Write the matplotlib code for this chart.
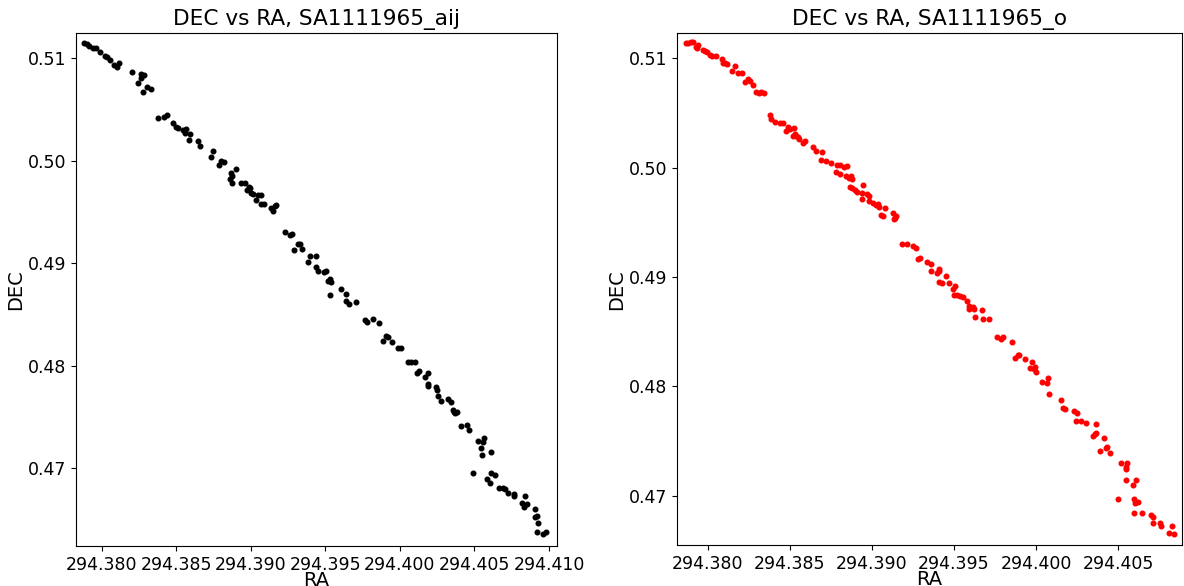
import matplotlib
matplotlib.use('Agg')
import matplotlib.pyplot as plt
from matplotlib.ticker import MultipleLocator, FormatStrFormatter

ra_aij = [294.37881, 294.37904, 294.37917, 294.37944, 294.37962, 294.37989, 294.38022, 294.38034,
          294.38056, 294.38084, 294.38100, 294.38118, 294.38201, 294.38261, 294.38283, 294.38263,
          294.38245, 294.38305, 294.38328, 294.38275, 294.38379, 294.38417, 294.38439, 294.38480,
          294.38502, 294.38513, 294.38543, 294.38569, 294.38558, 294.38591, 294.38583, 294.38647,
          294.38658, 294.38748, 294.38734, 294.38804, 294.38819, 294.38788, 294.38898, 294.38866,
          294.38875, 294.38864, 294.38875, 294.38938, 294.38960, 294.38989, 294.38998, 294.38975,
          294.39005, 294.39015, 294.39049, 294.39072, 294.39038, 294.39072, 294.39087, 294.39139,
          294.39149, 294.39161, 294.39168, 294.39228, 294.39266, 294.39277, 294.39317, 294.39328,
          294.39288, 294.39346, 294.39395, 294.39435, 294.39384, 294.39440, 294.39451, 294.39489,
          294.39507, 294.39518, 294.39534, 294.39541, 294.39534, 294.39603, 294.39636, 294.39641,
          294.39656, 294.39708, 294.39764, 294.39779, 294.39819, 294.39857, 294.39909, 294.39920,
          294.39886, 294.39946, 294.39987, 294.40009, 294.40058, 294.40076, 294.40099, 294.40114,
          294.40127, 294.40166, 294.40188, 294.40188, 294.40192, 294.40244, 294.40248, 294.40259,
          294.40279, 294.40322, 294.40346, 294.40355, 294.40366, 294.40373, 294.40382, 294.40411,
          294.40449, 294.40467, 294.40525, 294.40561, 294.40567, 294.40545, 294.40552, 294.40614,
          294.40489, 294.40608, 294.40641, 294.40583, 294.40606, 294.40668, 294.40690, 294.40708,
          294.40726, 294.40764, 294.40768, 294.40840, 294.40820, 294.40851, 294.40831, 294.40909,
          294.40904, 294.40920, 294.40929, 294.40920, 294.40963, 294.40981]
dec_aij = [0.51146, 0.51140, 0.51120, 0.51101, 0.51098, 0.51064, 0.51022, 0.51010,
           0.50983, 0.50938, 0.50918, 0.50951, 0.50863, 0.50847, 0.50840, 0.50805,
           0.50762, 0.50717, 0.50698, 0.50674, 0.50415, 0.50424, 0.50447, 0.50372,
           0.50333, 0.50317, 0.50301, 0.50313, 0.50268, 0.50262, 0.50203, 0.50196,
           0.50144, 0.50099, 0.50034, 0.50001, 0.49991, 0.49959, 0.49923, 0.49884,
           0.49852, 0.49820, 0.49786, 0.49786, 0.49786, 0.49747, 0.49732, 0.49715,
           0.49683, 0.49676, 0.49666, 0.49666, 0.49618, 0.49579, 0.49579, 0.49537,
           0.49513, 0.49562, 0.49569, 0.49308, 0.49276, 0.49283, 0.49185, 0.49185,
           0.49130, 0.49137, 0.49071, 0.49071, 0.49010, 0.48961, 0.48928, 0.48918,
           0.48928, 0.48830, 0.48844, 0.48821, 0.48691, 0.48746, 0.48701, 0.48635,
           0.48603, 0.48620, 0.48447, 0.48427, 0.48454, 0.48415, 0.48294, 0.48278,
           0.48242, 0.48235, 0.48171, 0.48171, 0.48040, 0.48040, 0.48040, 0.47933,
           0.47952, 0.47888, 0.47927, 0.47822, 0.47803, 0.47790, 0.47764, 0.47705,
           0.47660, 0.47679, 0.47644, 0.47569, 0.47552, 0.47537, 0.47552, 0.47413,
           0.47422, 0.47374, 0.47269, 0.47260, 0.47299, 0.47201, 0.47130, 0.47156,
           0.46957, 0.46957, 0.46932, 0.46899, 0.46854, 0.46811, 0.46811, 0.46795,
           0.46756, 0.46749, 0.46730, 0.46733, 0.46664, 0.46649, 0.46620, 0.46603,
           0.46522, 0.46535, 0.46469, 0.46376, 0.46359, 0.46382]

ra_o = [294.37868, 294.37882, 294.37897, 294.37909, 294.37929, 294.37943, 294.37937, 294.37970,
        294.37984, 294.37994, 294.38014, 294.38030, 294.38050, 294.38085, 294.38095, 294.38105,
        294.38119, 294.38166, 294.38146, 294.38186, 294.38207, 294.38228, 294.38247, 294.38257,
        294.38277, 294.38293, 294.38313, 294.38328, 294.38344, 294.38383, 294.38389, 294.38409,
        294.38439, 294.38459, 294.38490, 294.38500, 294.38480, 294.38526, 294.38530, 294.38541,
        294.38550, 294.38556, 294.38520, 294.38581, 294.38591, 294.38642, 294.38662, 294.38699,
        294.38693, 294.38723, 294.38753, 294.38790, 294.38804, 294.38828, 294.38848, 294.38784,
        294.38808, 294.38844, 294.38860, 294.38875, 294.38881, 294.38864, 294.38881, 294.38895,
        294.38909, 294.38945, 294.38942, 294.38970, 294.38982, 294.38942, 294.38982, 294.39010,
        294.39027, 294.39036, 294.39042, 294.39077, 294.39057, 294.39067, 294.39128, 294.39144,
        294.39132, 294.39140, 294.39182, 294.39213, 294.39249, 294.39270, 294.39279, 294.39294,
        294.39337, 294.39357, 294.39357, 294.39397, 294.39407, 294.39411, 294.39452, 294.39411,
        294.39428, 294.39472, 294.39508, 294.39492, 294.39502, 294.39516, 294.39537, 294.39557,
        294.39581, 294.39593, 294.39589, 294.39618, 294.39620, 294.39671, 294.39628, 294.39674,
        294.39715, 294.39762, 294.39786, 294.39796, 294.39853, 294.39871, 294.39887, 294.39897,
        294.39932, 294.39974, 294.39964, 294.39988, 294.39994, 294.39999, 294.40033, 294.40075,
        294.40069, 294.40080, 294.40151, 294.40165, 294.40177, 294.40231, 294.40248, 294.40242,
        294.40272, 294.40306, 294.40363, 294.40343, 294.40357, 294.40367, 294.40414, 294.40428,
        294.40434, 294.40448, 294.40389, 294.40515, 294.40545, 294.40552, 294.40549, 294.40545,
        294.40610, 294.40592, 294.40499, 294.40596, 294.40602, 294.40622, 294.40598, 294.40643,
        294.40701, 294.40711, 294.40711, 294.40754, 294.40758, 294.40828, 294.40808, 294.40838]
dec_o = [0.51143, 0.51143, 0.51146, 0.51152, 0.51101, 0.51122, 0.51092, 0.51076,
         0.51070, 0.51058, 0.51027, 0.51021, 0.51021, 0.50996, 0.50960, 0.50954,
         0.50945, 0.50932, 0.50884, 0.50868, 0.50863, 0.50786, 0.50808, 0.50795,
         0.50757, 0.50694, 0.50680, 0.50694, 0.50685, 0.50481, 0.50442, 0.50420,
         0.50405, 0.50405, 0.50374, 0.50350, 0.50338, 0.50360, 0.50307, 0.50289,
         0.50277, 0.50259, 0.50289, 0.50228, 0.50246, 0.50186, 0.50155, 0.50143,
         0.50070, 0.50063, 0.50039, 0.50024, 0.50024, 0.50008, 0.50015, 0.49960,
         0.49942, 0.49923, 0.49902, 0.49926, 0.49893, 0.49825, 0.49811, 0.49795,
         0.49780, 0.49841, 0.49765, 0.49759, 0.49743, 0.49710, 0.49697, 0.49673,
         0.49658, 0.49667, 0.49642, 0.49628, 0.49566, 0.49560, 0.49582, 0.49557,
         0.49530, 0.49536, 0.49301, 0.49301, 0.49283, 0.49262, 0.49161, 0.49176,
         0.49139, 0.49115, 0.49057, 0.49033, 0.49054, 0.49070, 0.49008, 0.48951,
         0.48947, 0.48942, 0.48920, 0.48889, 0.48834, 0.48834, 0.48828, 0.48813,
         0.48782, 0.48736, 0.48704, 0.48722, 0.48704, 0.48697, 0.48630, 0.48615,
         0.48612, 0.48447, 0.48432, 0.48447, 0.48402, 0.48261, 0.48285, 0.48285,
         0.48246, 0.48219, 0.48169, 0.48157, 0.48173, 0.48127, 0.48038, 0.48078,
         0.48027, 0.47929, 0.47874, 0.47798, 0.47791, 0.47776, 0.47758, 0.47682,
         0.47682, 0.47667, 0.47654, 0.47547, 0.47560, 0.47569, 0.47523, 0.47432,
         0.47441, 0.47392, 0.47410, 0.47295, 0.47263, 0.47295, 0.47242, 0.47139,
         0.47142, 0.47099, 0.46965, 0.46965, 0.46929, 0.46938, 0.46840, 0.46840,
         0.46822, 0.46806, 0.46746, 0.46751, 0.46727, 0.46727, 0.46654, 0.46648]

fig = plt.figure(figsize=(11.84, 5.86), dpi=100)
ax1 = fig.add_axes([0.0639, 0.0683, 0.4063, 0.8749])
ax2 = fig.add_axes([0.5715, 0.0700, 0.4270, 0.8732])

ax1.scatter(ra_aij, dec_aij, c='black', s=11)
ax1.set_title('DEC vs RA, SA1111965_aij', fontsize=15.6)
ax1.set_xlim(294.37826, 294.41052)
ax1.set_ylim(0.46242, 0.51244)

ax2.scatter(ra_o, dec_o, c='red', s=11)
ax2.set_title('DEC vs RA, SA1111965_o', fontsize=15.6)
ax2.set_xlim(294.37812, 294.40889)
ax2.set_ylim(0.46549, 0.51229)

for ax in (ax1, ax2):
    ax.set_xlabel('RA', fontsize=14, labelpad=-2)
    ax.set_ylabel('DEC', fontsize=14, labelpad=2)
    ax.xaxis.set_major_locator(MultipleLocator(0.005))
    ax.xaxis.set_major_formatter(FormatStrFormatter('%.3f'))
    ax.yaxis.set_major_locator(MultipleLocator(0.01))
    ax.yaxis.set_major_formatter(FormatStrFormatter('%.2f'))
    ax.tick_params(labelsize=12.5)

fig.savefig('out.png', dpi=100)
